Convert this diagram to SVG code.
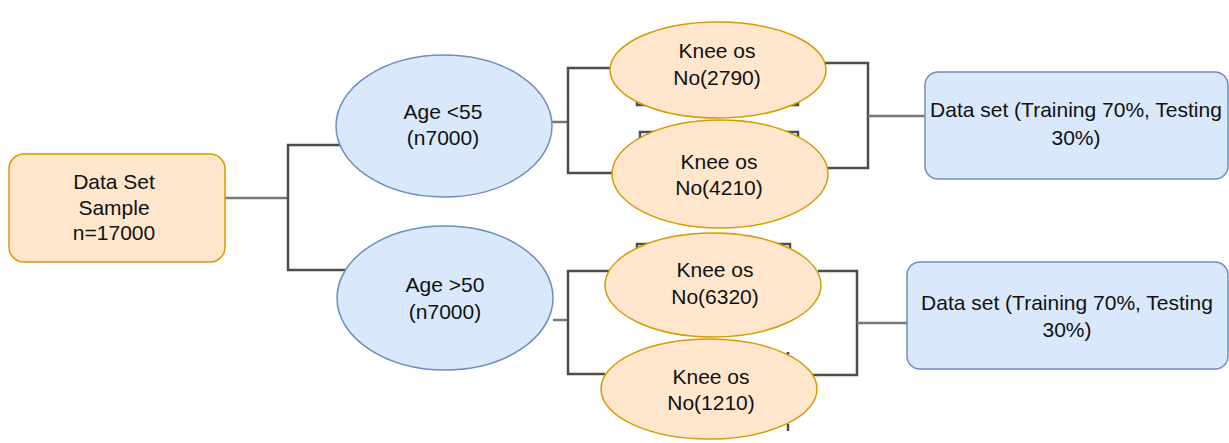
<svg xmlns="http://www.w3.org/2000/svg" width="1229" height="443" viewBox="0 0 1229 443">
<style>
.or{fill:#ffe6cc;stroke:#d79b00;stroke-width:1.5}
.bl{fill:#dae8fc;stroke:#6c8ebf;stroke-width:1.5}
.e{fill:none;stroke:#4d4d4d;stroke-width:2.5}
.s{fill:none;stroke:#777;stroke-width:2.5}
text{font-family:"Liberation Sans",Arial,sans-serif;font-size:21px;fill:#111;text-anchor:middle}
</style>
<rect width="1229" height="443" fill="#fff"/>
<g id="connectors">
<path class="s" d="M225,198 H288"/>
<path class="e" d="M340,145 H288 V270 H345"/>
<path class="s" d="M552,122 H568"/>
<path class="e" d="M615,68 H568 V173 H615"/>
<path class="e" d="M825,63 H868 V168 H825"/>
<path class="s" d="M868,116 H925"/>
<path class="e" d="M637,94 V105 H798 V98"/>
<path class="e" d="M640,142 V132 H798 V140"/>
<path class="s" d="M553,320 H568"/>
<path class="e" d="M610,271 H568 V374 H605"/>
<path class="e" d="M818,271 H857 V375 H812"/>
<path class="s" d="M857,323 H908"/>
<path class="e" d="M637,252 V244 H790 V252"/>
<path class="e" d="M788,358 V352"/>
<path class="e" d="M788,424 V431"/>
</g>
<g id="n_dataset">
<rect class="or" x="9" y="154" width="216" height="108" rx="15"/>
<text x="114" y="189">Data Set</text>
<text x="114" y="215">Sample</text>
<text x="114" y="240">n=17000</text>
</g>
<g id="n_age55">
<ellipse class="bl" cx="444" cy="126" rx="108" ry="71"/>
<text x="443" y="119">Age &lt;55</text>
<text x="443" y="145">(n7000)</text>
</g>
<g id="n_age50">
<ellipse class="bl" cx="445" cy="298" rx="108" ry="72"/>
<text x="445" y="292">Age &gt;50</text>
<text x="445" y="319">(n7000)</text>
</g>
<g id="n_k2790">
<ellipse class="or" cx="718" cy="70" rx="108" ry="48"/>
<text x="717" y="58">Knee os</text>
<text x="717" y="85">No(2790)</text>
</g>
<g id="n_k4210">
<ellipse class="or" cx="720" cy="174" rx="108" ry="54"/>
<text x="719" y="169">Knee os</text>
<text x="719" y="195">No(4210)</text>
</g>
<g id="n_k6320">
<ellipse class="or" cx="713" cy="285" rx="108" ry="52"/>
<text x="715" y="277">Knee os</text>
<text x="715" y="304">No(6320)</text>
</g>
<g id="n_k1210">
<ellipse class="or" cx="709" cy="389" rx="108" ry="50"/>
<text x="711" y="384">Knee os</text>
<text x="711" y="410">No(1210)</text>
</g>
<g id="n_split1">
<rect class="bl" x="925" y="72" width="303" height="107" rx="13"/>
<text x="1076" y="117">Data set (Training 70%, Testing</text>
<text x="1076" y="145">30%)</text>
</g>
<g id="n_split2">
<rect class="bl" x="907" y="262" width="321" height="107" rx="13"/>
<text x="1067" y="310">Data set (Training 70%, Testing</text>
<text x="1067" y="337">30%)</text>
</g>
</svg>
